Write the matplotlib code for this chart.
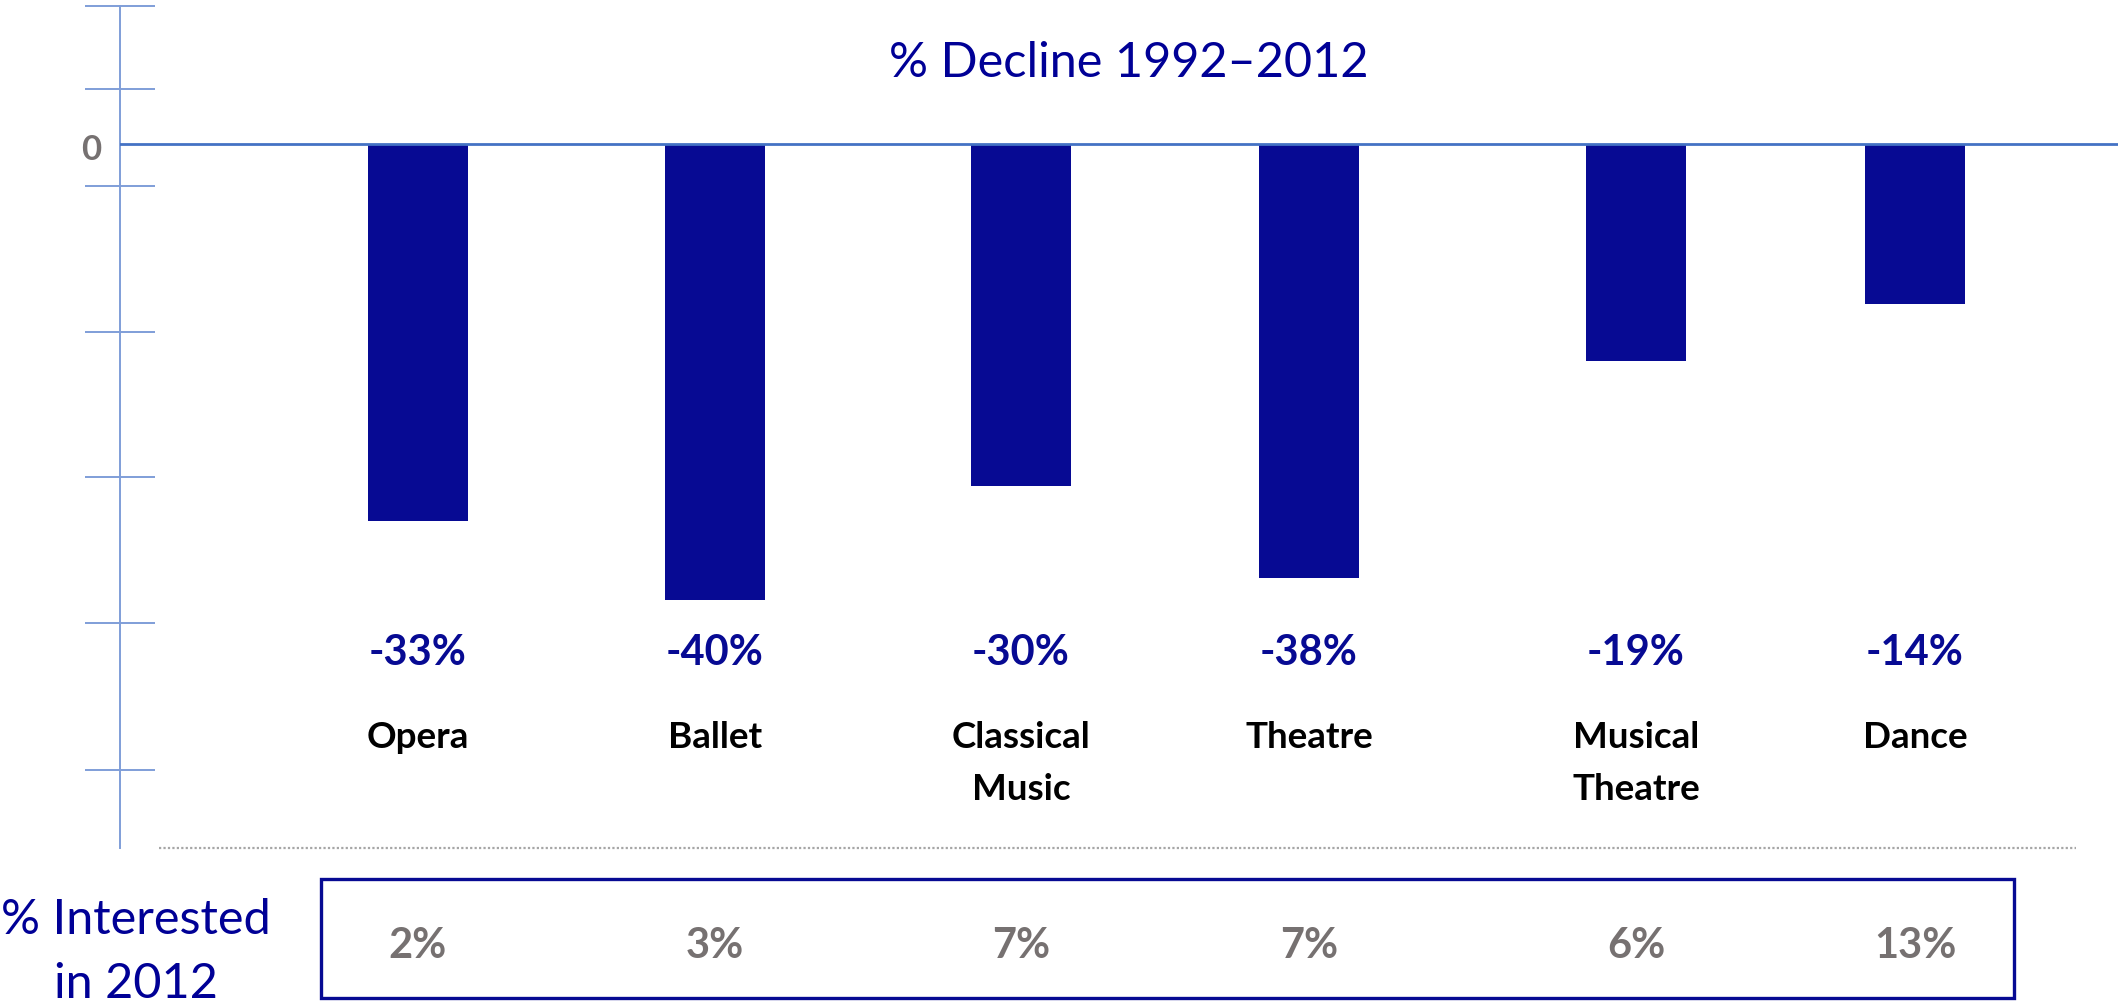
import matplotlib.pyplot as plt
from matplotlib.patches import Rectangle
from matplotlib.lines import Line2D
from matplotlib.transforms import blended_transform_factory

plt.rcParams['font.family'] = ['Lato', 'DejaVu Sans']

# data
categories = ["Opera", "Ballet", "Classical\nMusic", "Theatre", "Musical\nTheatre", "Dance"]
decline_pct = [-33, -40, -30, -38, -19, -14]
interested_2012 = [2, 3, 7, 7, 6, 13]

# layout (x in pixel-like units along the axis)
x_pos = [418, 715, 1021, 1309, 1636, 1915]
bar_w = 100
tick_y = [12.18, 4.85, -3.66, -16.44, -29.22, -42.0, -54.86]

NAVY = '#070A93'
AXIS_BLUE = '#7F9ED8'
ZERO_BLUE = '#4472C4'
GRAY = '#767171'

W, H = 2118, 1001
fig = plt.figure(figsize=(W / 100, H / 100), dpi=100)

def fy(py):
    return 1 - py / H

def fx(px):
    return px / W

ax = fig.add_axes([fx(119.7), fy(847.7), 1 - fx(119.7), fy(5.5) - fy(847.7)])
ax.set_xlim(119.7, W)
ax.set_ylim(-61.7, 12.18)

ax.bar(x_pos, decline_pct, width=bar_w, color=NAVY, zorder=2)
ax.axhline(0, color=ZERO_BLUE, lw=2.0, zorder=3)

for s in ['top', 'right', 'bottom']:
    ax.spines[s].set_visible(False)
ax.spines['left'].set_color(AXIS_BLUE)
ax.spines['left'].set_linewidth(1.4)
ax.set_xticks([])
ax.set_yticks(tick_y)
ax.set_yticklabels([])
ax.tick_params(axis='y', direction='inout', length=51, width=1.4, color=AXIS_BLUE)

ax.text(fx(101), fy(160), "0", transform=fig.transFigure, ha='right', va='baseline',
        fontsize=25, fontweight='bold', color=GRAY)

# title
fig.text(fx(1129), fy(77.3), "% Decline 1992\u20132012", ha='center', va='baseline',
         fontsize=35, color='#000096')

trans = blended_transform_factory(ax.transData, fig.transFigure)
for x, v, name, pct in zip(x_pos, decline_pct, categories, interested_2012):
    ax.text(x, fy(665), f"{v}%", transform=trans, ha='center', va='baseline',
            fontsize=30, fontweight='bold', color=NAVY, clip_on=False)
    # one text per line so the first baseline stays put
    for i, line in enumerate(name.split("\n")):
        ax.text(x, fy(748.5 + 51 * i), line, transform=trans, ha='center', va='baseline',
                fontsize=26.5, fontweight='bold', color='black', clip_on=False)
    ax.text(x, fy(958), f"{pct}%", transform=trans, ha='center', va='baseline',
            fontsize=30, fontweight='bold', color=GRAY, clip_on=False)

# dotted separator
fig.add_artist(Line2D([fx(159), fx(2076)], [fy(847.7), fy(847.7)], transform=fig.transFigure,
                      color='#A6A6A6', lw=1.6, linestyle=(0, (1, 1))))

# interest box
fig.add_artist(Rectangle((fx(321), fy(998)), fx(2014) - fx(321), fy(879) - fy(998),
                         transform=fig.transFigure, fill=False, edgecolor=NAVY, lw=2.4))
for i, line in enumerate(["% Interested", "in 2012"]):
    fig.text(fx(135.5), fy(934 + 64 * i), line, ha='center', va='baseline',
             fontsize=35, color='#000096')

fig.savefig("out.png", dpi=100)
